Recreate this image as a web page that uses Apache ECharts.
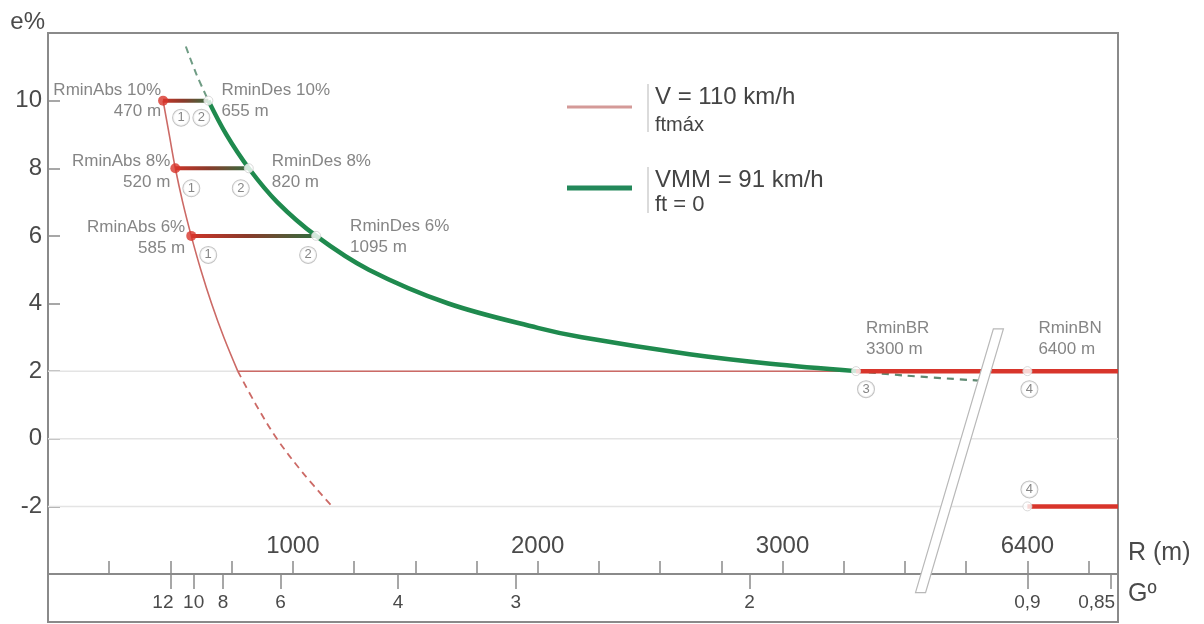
<!DOCTYPE html>
<html>
<head>
<meta charset="utf-8">
<script src="https://cdn.jsdelivr.net/npm/echarts@6/dist/echarts.min.js"></script>
<style>
  html, body { margin: 0; padding: 0; background: #fff; }
  #chart { width: 1204px; height: 624px; }
</style>
</head>
<body>
<div id="chart"></div>
<script>
// Superelevation e% against curve radius R (m) for V = 110 km/h

// Design steps: superelevation and the minimum radii found for it
const E_LEVELS = [10, 8, 6];
const R_MIN_ABS = [470, 520, 585];
const R_MIN_DES = [655, 820, 1095];
const R_MIN_BR = 3300;
const R_MIN_BN = 6400;
const E_BR = 2;
const E_BN = [2, -2];

// V = 110 km/h with maximum side friction, [R, e]
const FTMAX_CURVE = [[470, 10], [495, 9], [520, 8], [550, 7], [585, 6], [624, 5], [668, 4], [718, 3], [775, 2]];
const FTMAX_CURVE_EXT = [[775, 2], [850, 1], [935, 0], [1040, -1], [1160, -2]];

// VMM = 91 km/h with zero side friction, [R, e]
const FT0_CURVE = [[655, 10], [728, 9], [820, 8], [936, 7], [1095, 6], [1310, 5], [1635, 4], [2000, 3.28], [2180, 3], [2620, 2.5], [2950, 2.22], [3300, 2]];
const FT0_CURVE_UP = [[563, 11.6], [605, 10.8], [655, 10]];
const FT0_CURVE_DOWN = [[3300, 2], [3500, 1.87], [3800, 1.72]];

// Circled step markers
const STEP_NUM = [1, 2, 1, 2, 1, 2, 3, 4, 4];
const STEP_R = [470, 655, 520, 820, 585, 1095, 3300, 6400, 6400];
const STEP_E = [10, 10, 8, 8, 6, 6, 2, 2, -2];

// Axis labels
const R_TICK_LABELS = [1000, 2000, 3000, 6400];
const G_LABELS = ['12', '10', '8', '6', '4', '3', '2', '0,9', '0,85'];
const G_AT_R = [502, 595, 715, 950, 1430, 1910, 2865, 6400, 6740];
const E_GRID = [2, 0, -2];
const R_MAX = 6770;

// The R axis skips the span between the two slanted break strokes
const BREAK_FROM = 3800, BREAK_TO = 6200;
const toAxis = r => (r >= BREAK_TO ? r - (BREAK_TO - BREAK_FROM) : r);
const toReal = v => (v >= BREAK_FROM ? v + (BREAK_TO - BREAK_FROM) : v);
const pt = ([r, e]) => [toAxis(r), e];

// Break strokes, in axis units
const BREAK_MARK = [[3861, 3.25], [3902, 3.25], [3584, -4.55], [3543, -4.55]];

// Label placement nudges (px)
const ABS_LABEL_SHIFT = [[3, 0], [0, 4], [-1, 2]];
const DES_LABEL_SHIFT = [[8, 0], [18, 4], [29, 1]];
const STEP_TAG_SHIFT = [[18, 17], [-7, 17], [16, 20], [-8, 20], [17, 19], [-8, 19], [10, 18], [2, 18], [2, -17]];

const FONT = '"Liberation Sans", Arial, Helvetica, sans-serif';
const AXIS_GREY = '#8a8a8a';
const TEXT_GREY = '#4a4a4a';
const LABEL_GREY = '#666';
const RED = '#d8352b';
const RED_THIN = '#cc6a66';
const GREEN = '#1f8a4e';
const GREEN_DASH = '#6f9c84';

const chart = echarts.init(document.getElementById('chart'));

const plainLine = (data, color, width, extra) => Object.assign({
  type: 'line', data: data.map(pt), symbol: 'none', silent: true,
  lineStyle: { color, width }, z: 2
}, extra || {});

const series = [];

// light reference lines at e = 2, 0, -2
E_GRID.forEach(e => series.push(plainLine([[0, e], [R_MAX, e]], '#e4e4e4', 1.5, { z: 1 })));

// V = 110 km/h, ftmáx
series.push(plainLine(FTMAX_CURVE, RED_THIN, 1.6, { smooth: 0.35 }));
series.push(plainLine(FTMAX_CURVE_EXT, RED_THIN, 1.8, { smooth: 0.35, lineStyle: { color: RED_THIN, width: 1.8, type: [7, 5] } }));
series.push(plainLine([[FTMAX_CURVE[FTMAX_CURVE.length - 1][0], E_BR], [R_MIN_BR, E_BR]], RED_THIN, 1.5));

// steps from RminAbs to RminDes
E_LEVELS.forEach((e, i) => series.push(plainLine([[R_MIN_ABS[i], e], [R_MIN_DES[i], e]], RED, 4, {
  lineStyle: {
    width: 4,
    color: new echarts.graphic.LinearGradient(0, 0, 1, 0, [
      { offset: 0, color: '#cf3429' },
      { offset: 0.45, color: '#8a3a2a' },
      { offset: 1, color: '#2e7040' }
    ])
  },
  z: 3
})));

// VMM = 91 km/h, ft = 0
series.push(plainLine(FT0_CURVE_UP, GREEN_DASH, 2, { smooth: 0.35, lineStyle: { color: GREEN_DASH, width: 2, type: [7, 5] } }));
series.push(plainLine(FT0_CURVE, GREEN, 4.5, { smooth: 0.35, z: 3 }));
series.push(plainLine(FT0_CURVE_DOWN, GREEN_DASH, 2.2, { smooth: 0.35, lineStyle: { color: '#5f8a72', width: 2.2, type: [7, 6] } }));

// bombeo ranges
series.push(plainLine([[R_MIN_BR, E_BN[0]], [R_MAX, E_BN[0]]], RED, 4.5, { z: 3 }));
series.push(plainLine([[R_MIN_BN, E_BN[1]], [R_MAX, E_BN[1]]], RED, 4.5, { z: 3 }));

// axis break strokes across the plot
series.push({
  type: 'custom', silent: true, clip: false, z: 4,
  data: [[0, 0]],
  renderItem: (params, api) => ({
    type: 'polygon',
    shape: { points: BREAK_MARK.map(p => api.coord(p)) },
    style: { fill: '#fff', stroke: '#b8b8b8', lineWidth: 1.2 }
  })
});

const textLabel = {
  show: true, fontSize: 17, color: LABEL_GREY, lineHeight: 21, fontFamily: FONT
};

// RminDes, RminBR and RminBN points
const openPoints = E_LEVELS.map((e, i) => ({
  value: pt([R_MIN_DES[i], e]),
  label: Object.assign({}, textLabel, {
    position: 'right', distance: 0, offset: DES_LABEL_SHIFT[i],
    formatter: 'RminDes ' + e + '%\n' + R_MIN_DES[i] + ' m'
  })
}));
openPoints.push({
  value: pt([R_MIN_BR, E_BR]),
  label: Object.assign({}, textLabel, { position: 'right', distance: 5, offset: [0, -32], formatter: 'RminBR\n' + R_MIN_BR + ' m' })
});
openPoints.push({
  value: pt([R_MIN_BN, E_BN[0]]),
  label: Object.assign({}, textLabel, { position: 'right', distance: 5, offset: [1, -32], formatter: 'RminBN\n' + R_MIN_BN + ' m' })
});
openPoints.push({ value: pt([R_MIN_BN, E_BN[1]]) });

series.push({
  type: 'scatter', silent: true, z: 6,
  symbol: 'circle', symbolSize: 9,
  itemStyle: { color: '#fff', borderColor: '#cfcfcf', borderWidth: 1 },
  data: openPoints
});

// RminAbs points
series.push({
  type: 'scatter', silent: true, z: 6,
  symbol: 'circle', symbolSize: 10,
  itemStyle: { color: RED },
  data: E_LEVELS.map((e, i) => ({
    value: pt([R_MIN_ABS[i], e]),
    label: Object.assign({}, textLabel, {
      position: 'left', distance: 0, offset: ABS_LABEL_SHIFT[i], align: 'right',
      formatter: 'RminAbs ' + e + '%\n' + R_MIN_ABS[i] + ' m'
    })
  }))
});

// circled step numbers
series.push({
  type: 'scatter', silent: true, z: 7,
  symbolSize: 0,
  data: STEP_NUM.map((n, i) => ({
    value: pt([STEP_R[i], STEP_E[i]]),
    label: {
      show: true, position: 'inside', offset: STEP_TAG_SHIFT[i],
      formatter: '{c|' + n + '}',
      rich: {
        c: {
          width: 16, height: 16, lineHeight: 16, align: 'center', verticalAlign: 'middle',
          borderRadius: 8, borderWidth: 1, borderColor: '#b3b3b3', backgroundColor: '#fff',
          fontSize: 13, color: '#666', fontFamily: FONT
        }
      }
    }
  }))
});

const gByAxis = {};
G_AT_R.forEach((r, i) => { gByAxis[toAxis(r)] = G_LABELS[i]; });
// the two end labels of the Gº scale sit a little left of their ticks
const gShifted = { '12': 'a', '0,85': 'b' };

const option = {
  animation: false,
  textStyle: { fontFamily: FONT },
  grid: { left: 48, right: 86, top: 33, bottom: 50, containLabel: false },
  xAxis: [
    {
      type: 'value', min: 0, max: toAxis(R_MAX), interval: 250, position: 'bottom',
      name: 'R (m)', nameLocation: 'end', nameGap: 10,
      nameTextStyle: { fontSize: 25, color: TEXT_GREY, verticalAlign: 'bottom', padding: [0, 0, 8, 0] },
      axisLine: { show: true, onZero: false, lineStyle: { color: AXIS_GREY, width: 2 } },
      axisTick: { show: true, inside: true, length: 13, lineStyle: { color: AXIS_GREY, width: 1.5 } },
      axisLabel: {
        inside: true, margin: 16, fontSize: 24, color: TEXT_GREY,
        customValues: R_TICK_LABELS.map(toAxis),
        formatter: v => String(toReal(v))
      },
      splitLine: { show: false }
    },
    {
      type: 'value', min: 0, max: toAxis(R_MAX), position: 'bottom',
      name: 'Gº', nameLocation: 'end', nameGap: 10,
      nameTextStyle: { fontSize: 25, color: TEXT_GREY, verticalAlign: 'top', padding: [8, 0, 0, 0] },
      axisLine: { show: false, onZero: false },
      axisTick: { show: true, inside: false, length: 15, customValues: G_AT_R.map(toAxis), lineStyle: { color: AXIS_GREY, width: 1.5 } },
      axisLabel: {
        margin: 19, fontSize: 19, color: TEXT_GREY,
        customValues: G_AT_R.map(toAxis),
        formatter: v => {
          const g = gByAxis[v];
          return gShifted[g] ? '{' + gShifted[g] + '|' + g + '}' : g;
        },
        rich: {
          a: { fontSize: 19, color: TEXT_GREY, padding: [0, 16, 0, 0] },
          b: { fontSize: 19, color: TEXT_GREY, padding: [0, 28, 0, 0] }
        }
      },
      splitLine: { show: false }
    }
  ],
  yAxis: {
    type: 'value', min: -4, max: 12, interval: 2,
    name: 'e%', nameLocation: 'end', nameGap: 11,
    nameTextStyle: { fontSize: 24, color: TEXT_GREY, align: 'right', verticalAlign: 'middle', padding: [0, 3, 0, 0] },
    axisLine: { show: true, onZero: false, lineStyle: { color: AXIS_GREY, width: 2 } },
    axisTick: { show: true, inside: true, length: 12, lineStyle: { color: AXIS_GREY, width: 1.5 } },
    axisLabel: { fontSize: 24, color: TEXT_GREY, margin: 6, showMinLabel: false, showMaxLabel: false },
    splitLine: { show: false }
  },
  graphic: [
    // outer frame of the diagram, down past the Gº scale
    { type: 'rect', silent: true, z: -1, shape: { x: 48, y: 33, width: 1070, height: 589 }, style: { fill: 'none', stroke: AXIS_GREY, lineWidth: 2 } },
    // key
    { type: 'line', silent: true, shape: { x1: 567, y1: 107, x2: 632, y2: 107 }, style: { stroke: '#d49a98', lineWidth: 3 } },
    { type: 'line', silent: true, shape: { x1: 648, y1: 84, x2: 648, y2: 132 }, style: { stroke: '#cfcfcf', lineWidth: 1.5 } },
    { type: 'text', silent: true, style: { x: 655, y: 97, text: 'V = 110 km/h', font: '24px ' + FONT, fill: '#444', verticalAlign: 'middle' } },
    { type: 'text', silent: true, style: { x: 655, y: 125, text: 'ftmáx', font: '20px ' + FONT, fill: '#444', verticalAlign: 'middle' } },
    { type: 'line', silent: true, shape: { x1: 567, y1: 188, x2: 632, y2: 188 }, style: { stroke: '#23885a', lineWidth: 5 } },
    { type: 'line', silent: true, shape: { x1: 648, y1: 167, x2: 648, y2: 213 }, style: { stroke: '#cfcfcf', lineWidth: 1.5 } },
    { type: 'text', silent: true, style: { x: 655, y: 180, text: 'VMM = 91 km/h', font: '24px ' + FONT, fill: '#444', verticalAlign: 'middle' } },
    { type: 'text', silent: true, style: { x: 655, y: 205, text: 'ft = 0', font: '22px ' + FONT, fill: '#444', verticalAlign: 'middle' } }
  ],
  series
};

chart.setOption(option);
</script>
</body>
</html>
